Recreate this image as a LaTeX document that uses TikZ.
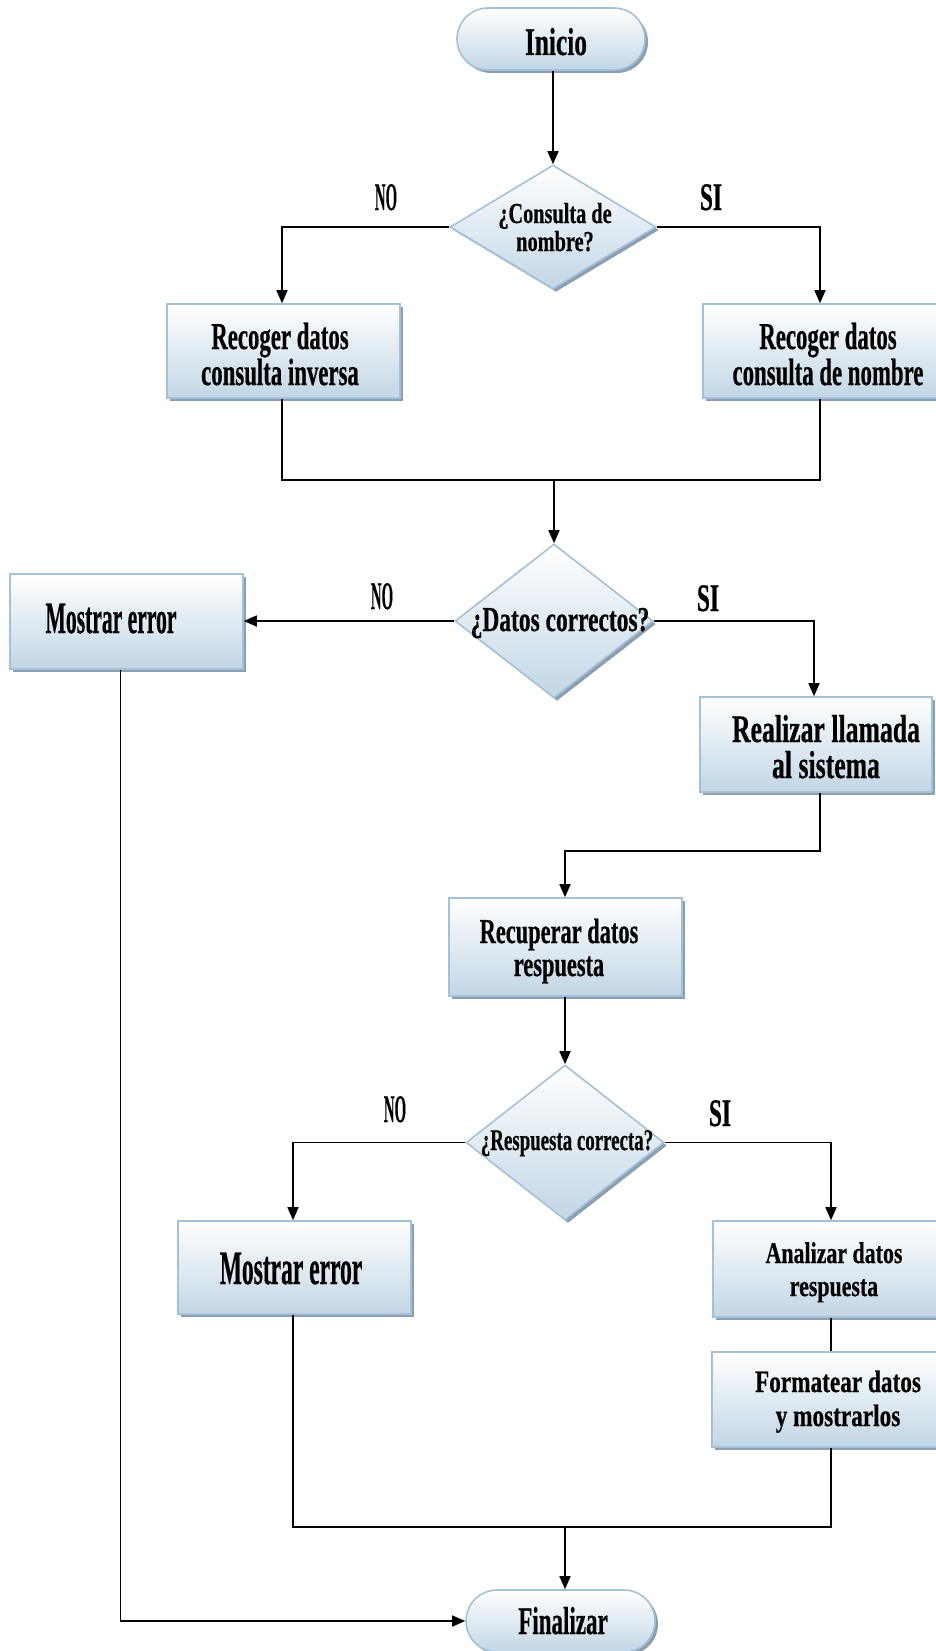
\documentclass[tikz,border=0pt]{standalone}
\usepackage{fontspec}
\setmainfont{Liberation Serif}[BoldFeatures={FakeBold=0.6}]
\usepackage{graphicx}
\usetikzlibrary{shapes.geometric,shadows,arrows.meta}

\definecolor{edgeblue}{HTML}{A3C1D8}
\definecolor{fillblue}{HTML}{C2D6E5}
\definecolor{shadowblue}{HTML}{8C9FB0}

% bold condensed label: size, baseline distance, horizontal squeeze, lines (\\ separated)
\newcommand\lbl[4]{{\fontsize{#1}{#2}\bfseries\selectfont
  \lineskiplimit=-\maxdimen\let\\\cr
  \scalebox{#3}[1]{\vtop{\halign{\hfil##\hfil\cr#4\crcr}}}}}

\tikzset{
  flowfill/.style={draw=edgeblue, line width=1.6pt, top color=white,
    bottom color=fillblue,
    drop shadow={shadow xshift=3pt, shadow yshift=-3pt, fill=shadowblue, opacity=1}},
  procbox/.style={flowfill, rectangle, inner sep=0pt},
  decision/.style={flowfill, diamond, inner sep=0pt},
  terminal/.style={flowfill, rectangle, rounded corners=31pt, inner sep=0pt},
  txt/.style={anchor=base, inner sep=0pt},
  flow/.style={line width=1.6pt, black},
  arrow/.style={flow, -{Triangle[length=13pt,width=11pt]}},
}

\begin{document}
\begin{tikzpicture}[x=1pt, y=-1pt]
\useasboundingbox (0,0) rectangle (936,1651);

% shapes
\node[terminal, minimum width=188pt, minimum height=62pt] (ini) at (551,39) {};
\node[decision, minimum width=206pt, minimum height=124pt] (d1) at (553,227) {};
\node[procbox, minimum width=233pt, minimum height=94pt] (r1L) at (283.5,351) {};
\node[procbox, minimum width=250pt, minimum height=94pt] (r1R) at (828,351) {};
\node[decision, minimum width=198pt, minimum height=154pt] (d2) at (554,621) {};
\node[procbox, minimum width=233pt, minimum height=95pt] (me1) at (126.5,621.5) {};
\node[procbox, minimum width=232pt, minimum height=95pt] (rl) at (816,744.5) {};
\node[procbox, minimum width=233pt, minimum height=98pt] (rd) at (565.5,947) {};
\node[decision, minimum width=198pt, minimum height=155pt] (d3) at (565,1142.5) {};
\node[procbox, minimum width=233pt, minimum height=93pt] (me2) at (294.5,1267.5) {};
\node[procbox, minimum width=242pt, minimum height=96pt] (an) at (834,1269) {};
\node[procbox, minimum width=244pt, minimum height=95pt] (fm) at (834,1399.5) {};
\node[terminal, minimum width=189pt, minimum height=62pt] (fin) at (560.5,1621) {};

% junction points
\coordinate (m1) at (554,480);
\coordinate (m2) at (565,851);
\coordinate (m3) at (565,1527);

% connectors
\draw[arrow] (ini.south -| d1.north) -- (d1.north);
\draw[arrow] (d1.west) -| ([xshift=-1.5pt]r1L.north);
\draw[arrow] (d1.east) -| ([xshift=-8pt]r1R.north);
\draw[flow] ([xshift=-1.5pt]r1L.south) |- (m1) -| ([xshift=-8pt]r1R.south);
\draw[arrow] (m1) -- (d2.north);
\draw[arrow] (d2.west) -- (d2.west -| me1.east);
\draw[arrow] (d2.east) -| ([xshift=-2pt]rl.north);
\draw[arrow] ([xshift=4pt]rl.south) |- (m2) -- (m2 |- rd.north);
\draw[arrow] (m2 |- rd.south) -- (m2 |- d3.north);
\draw[arrow] (d3.west) -| ([xshift=-1.5pt]me2.north);
\draw[arrow] (d3.east) -| ([xshift=-3pt]an.north);
\draw[flow] ([xshift=-3pt]an.south) -- ([xshift=-3pt]fm.north);
\draw[flow] ([xshift=-1.5pt]me2.south) |- (m3) -| ([xshift=-3pt]fm.south);
\draw[arrow] (m3) -- (m3 |- fin.north);
\draw[arrow] ([xshift=-6pt]me1.south) |- (fin.west);

% texts
\node[txt] (tini) at (556,55) {\lbl{39}{33}{0.65}{Inicio}};
\node[txt] (td1) at (555,223) {\lbl{29}{28}{0.7}{¿Consulta de\\nombre?}};
\node[txt] (tr1L) at (280,349) {\lbl{38}{36}{0.6}{Recoger datos\\consulta inversa}};
\node[txt] (tr1R) at (828,349) {\lbl{38}{36}{0.6}{Recoger datos\\consulta de nombre}};
\node[txt] (tme1) at (111,633) {\lbl{45}{40}{0.48}{Mostrar error}};
\node[txt] (td2) at (560,631) {\lbl{35}{30}{0.67}{¿Datos correctos?}};
\node[txt] (trl) at (826,742) {\lbl{39}{36}{0.66}{Realizar llamada\\al sistema}};
\node[txt] (trd) at (559,943) {\lbl{35}{33}{0.64}{Recuperar datos\\respuesta}};
\node[txt] (td3) at (567,1150) {\lbl{30}{26}{0.63}{¿Respuesta correcta?}};
\node[txt] (tme2) at (291,1284) {\lbl{48}{40}{0.49}{Mostrar error}};
\node[txt] (tan) at (834,1263) {\lbl{30}{33}{0.73}{Analizar datos\\respuesta}};
\node[txt] (tfm) at (838,1392) {\lbl{31}{34}{0.75}{Formatear datos\\y mostrarlos}};
\node[txt] (tfin) at (563,1634) {\lbl{39}{33}{0.59}{Finalizar}};

% branch labels
\node[txt] (no1) at (386,210) {\lbl{39}{33}{0.38}{NO}};
\node[txt] (si1) at (711,210) {\lbl{39}{33}{0.6}{SI}};
\node[txt] (no2) at (382,609) {\lbl{39}{33}{0.38}{NO}};
\node[txt] (si2) at (708,611) {\lbl{39}{33}{0.6}{SI}};
\node[txt] (no3) at (395,1122) {\lbl{39}{33}{0.38}{NO}};
\node[txt] (si3) at (720,1126) {\lbl{39}{33}{0.6}{SI}};
\end{tikzpicture}
\end{document}
